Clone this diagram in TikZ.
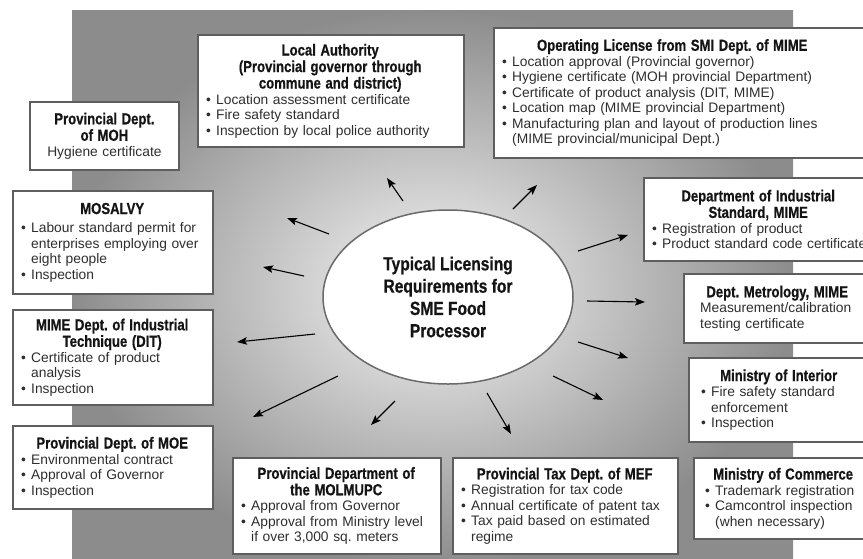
\documentclass[tikz,border=0pt]{standalone}
\usepackage{fontspec}
\setmainfont{Liberation Sans}
\newfontfamily\tfont{Liberation Sans}[FakeStretch=0.82, BoldFeatures={FakeBold=0.6}]
\usetikzlibrary{shapes.geometric,arrows.meta}
\frenchspacing
\definecolor{bodyc}{HTML}{2E2E2E}
\definecolor{titc}{HTML}{141414}
\definecolor{framec}{HTML}{5E5E5E}
\definecolor{ellc}{HTML}{6A6A6A}
\definecolor{bglight}{HTML}{E3E3E3}
\definecolor{bgmid}{HTML}{D8D8D8}
\definecolor{bgdark}{HTML}{8C8C8C}
\pgfdeclareradialshading{bgshade}{\pgfpoint{0bp}{0bp}}{color(0bp)=(bglight); color(7bp)=(bgmid); color(25bp)=(bgdark); color(50bp)=(bgdark)}
\setlength\parindent{0pt}
\newcommand\bodyf{\fontsize{13.8}{15.5}\selectfont\frenchspacing}
\newcommand\titf{\tfont\bfseries\fontsize{16}{16.5}\selectfont\color{titc}\frenchspacing}
\newcommand\ttl[2]{\makebox[#1][c]{#2}\par}
\newcommand\itm[1]{\hangindent=10pt\hangafter=1\makebox[10pt][l]{\textbullet}#1\par}
\tikzset{
  frame/.style={draw=framec, line width=1.8pt, fill=white, inner sep=0pt, anchor=north west},
  txt/.style={inner sep=0pt, align=left, font=\bodyf, text=bodyc, anchor=west},
  arr/.style={-{Stealth[length=10pt,width=7.5pt,inset=2pt]}, line width=1.1pt, black},
}
\begin{document}
\begin{tikzpicture}[x=1pt,y=-1pt]
\useasboundingbox (0,0) rectangle (863,558);
\clip (0,0) rectangle (863,558);
\fill[white] (0,0) rectangle (863,558);
\shade[shading=bgshade] (72,10) rectangle (793,566);

% ---- boxes ----
\node[frame, minimum width=149pt, minimum height=68pt] (moh) at (29,101) {};
\node[txt, text width=141pt, align=center, anchor=center] (moh-t) at (moh.center)
  {{\titf Provincial Dept.\\ of MOH\par}Hygiene certificate};

\node[frame, minimum width=266pt, minimum height=112pt] (la) at (197,34) {};
\node[txt, text width=250pt] (la-t) at ([xshift=9pt]la.west)
  {{\titf\ttl{248pt}{Local Authority}\ttl{248pt}{(Provincial governor through}\ttl{248pt}{commune and district)}}%
   \itm{Location assessment certificate}\itm{Fire safety standard}\itm{Inspection by local police authority}};

\node[frame, minimum width=400pt, minimum height=130pt] (los) at (493,27) {};
\node[txt, text width=360pt] (los-t) at ([xshift=9pt]los.west)
  {{\titf\ttl{340pt}{Operating License from SMI Dept. of MIME}}%
   \itm{Location approval (Provincial governor)}%
   \itm{Hygiene certificate (MOH provincial Department)}%
   \itm{Certificate of product analysis (DIT, MIME)}%
   \itm{Location map (MIME provincial Department)}%
   \itm{Manufacturing plan and layout of production lines\newline(MIME provincial/municipal Dept.)}};

\node[frame, minimum width=260pt, minimum height=83pt] (dis) at (643,177) {};
\node[txt, text width=250pt] (dis-t) at ([xshift=9pt]dis.west)
  {{\titf\ttl{212pt}{Department of Industrial}\ttl{212pt}{Standard, MIME}}%
   \itm{Registration of product}\itm{Product standard code certificate}};

\node[frame, minimum width=220pt, minimum height=69pt] (met) at (683,273) {};
\node[txt, text width=200pt] (met-t) at ([xshift=17pt]met.west)
  {{\titf\ttl{154pt}{Dept. Metrology, MIME}}Measurement/calibration\\ testing certificate};

\node[frame, minimum width=220pt, minimum height=84pt] (moi) at (688,357) {};
\node[txt, text width=200pt] (moi-t) at ([xshift=13pt]moi.west)
  {{\titf\ttl{155pt}{Ministry of Interior}}%
   \itm{Fire safety standard\newline enforcement}\itm{Inspection}};

\node[frame, minimum width=220pt, minimum height=81pt] (moc) at (693,457) {};
\node[txt, text width=200pt] (moc-t) at ([xshift=12pt]moc.west)
  {{\titf\ttl{156pt}{Ministry of Commerce}}%
   \itm{Trademark registration}\itm{Camcontrol inspection\newline(when necessary)}};

\node[frame, minimum width=225pt, minimum height=96pt] (tax) at (452,457) {};
\node[txt, text width=209pt] (tax-t) at ([xshift=9pt]tax.west)
  {{\titf\ttl{207pt}{Provincial Tax Dept. of MEF}}%
   \itm{Registration for tax code}\itm{Annual certificate of patent tax}%
   \itm{Tax paid based on estimated\newline regime}};

\node[frame, minimum width=208pt, minimum height=96pt] (mol) at (232,457) {};
\node[txt, text width=192pt] (mol-t) at ([xshift=9pt]mol.west)
  {{\titf\ttl{190pt}{Provincial Department of}\ttl{190pt}{the MOLMUPC}}%
   \itm{Approval from Governor}\itm{Approval from Ministry level\newline if over 3,000 sq. meters}};

\node[frame, minimum width=200pt, minimum height=83pt] (moe) at (12,425) {};
\node[txt, text width=184pt] (moe-t) at ([xshift=9pt]moe.west)
  {{\titf\ttl{182pt}{Provincial Dept. of MOE}}%
   \itm{Environmental contract}\itm{Approval of Governor}\itm{Inspection}};

\node[frame, minimum width=200pt, minimum height=95pt] (dit) at (12,309) {};
\node[txt, text width=184pt] (dit-t) at ([xshift=9pt]dit.west)
  {{\titf\ttl{182pt}{MIME Dept. of Industrial}\ttl{182pt}{Technique (DIT)}}%
   \itm{Certificate of product\newline analysis}\itm{Inspection}};

\node[frame, minimum width=200pt, minimum height=103pt] (mos) at (12,190) {};
\node[txt, text width=184pt] (mos-t) at ([xshift=9pt]mos.west)
  {{\titf\ttl{182pt}{MOSALVY}\vspace{3pt}}%
   \itm{Labour standard permit for\newline enterprises employing over\newline eight people}\itm{Inspection}};

% ---- centre ----
\node[ellipse, draw=ellc, line width=1.5pt, fill=white, minimum width=250pt, minimum height=174pt,
      inner sep=0pt, align=center, text=titc,
      font={\tfont\bfseries\fontsize{19}{22.3}\selectfont}] (core) at (448,297)
  {Typical Licensing\\Requirements for\\SME Food\\Processor};

% ---- arrows ----
\coordinate (s-la)  at (403,201); \coordinate (e-la)  at (387,178);
\coordinate (s-los) at (513,209); \coordinate (e-los) at (537,185);
\coordinate (s-moh) at (329,234); \coordinate (e-moh) at (287,218);
\coordinate (s-mos) at (304,276); \coordinate (e-mos) at (263,267);
\coordinate (s-dit) at (315,334); \coordinate (e-dit) at (237,342);
\coordinate (s-moe) at (338,376); \coordinate (e-moe) at (253,417);
\coordinate (s-mol) at (395,401); \coordinate (e-mol) at (371,425);
\coordinate (s-tax) at (487,393); \coordinate (e-tax) at (511,434);
\coordinate (s-moc) at (553,376); \coordinate (e-moc) at (603,400);
\coordinate (s-moi) at (578,342); \coordinate (e-moi) at (628,358);
\coordinate (s-met) at (587,301); \coordinate (e-met) at (645,302);
\coordinate (s-dis) at (578,251); \coordinate (e-dis) at (628,235);
\foreach \n in {la,los,moh,mos,dit,moe,mol,tax,moc,moi,met,dis}
  \draw[arr] (s-\n) -- (e-\n);
\end{tikzpicture}
\end{document}
